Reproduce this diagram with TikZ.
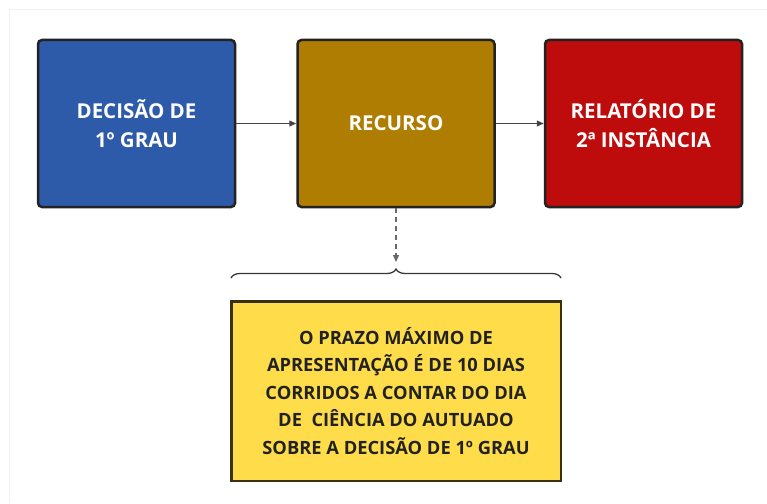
\documentclass[tikz,border=0pt]{standalone}
\usepackage{fontspec}
\setmainfont{Open Sans}
\usetikzlibrary{decorations.pathreplacing,arrows.meta}
\definecolor{azul}{HTML}{2E5AAA}
\definecolor{ouro}{HTML}{B07D03}
\definecolor{vermelho}{HTML}{BE0B0B}
\definecolor{amarelo}{HTML}{FFDC4A}
\definecolor{borda}{HTML}{222222}
\definecolor{bordaam}{HTML}{3A2F12}
\definecolor{cinza}{HTML}{444444}
\definecolor{moldura}{HTML}{F0F0F0}
\tikzset{
  caixa/.style={draw=borda,line width=2.5pt,rounded corners=4pt,
    minimum width=197pt,minimum height=167pt,inner sep=0pt,
    align=center,text=white,font=\bfseries\fontsize{20.5}{29}\selectfont},
  nota/.style={draw=bordaam,fill=amarelo,line width=2.5pt,
    minimum width=329.5pt,minimum height=179.5pt,inner sep=0pt,
    align=center,text=borda,font=\bfseries\fontsize{18.3}{27.5}\selectfont},
  seta/.style={draw=cinza,line width=1pt,-{Triangle[length=7pt,width=6pt]}},
}

\begin{document}
\begin{tikzpicture}[x=1pt,y=-1pt]
  \useasboundingbox (0,0) rectangle (767,503);
  % moldura
  \draw[moldura,line width=1pt] (9,503) -- (9,10) -- (767,10);

  % caixas
  \node[caixa,fill=azul] (dec) at (136.5,123.5) {DECISÃO DE\\1º GRAU};
  \node[caixa,fill=ouro] (rec) at (396,123.5) {RECURSO};
  \node[caixa,fill=vermelho] (rel) at (643.5,123.5) {RELATÓRIO DE\\2ª INSTÂNCIA};

  % setas
  \draw[seta] (dec) -- (rec);
  \draw[seta] (rec) -- (rel);

  % nota
  \node[nota] (prazo) at (396,391) {O PRAZO MÁXIMO DE\\APRESENTAÇÃO É DE 10 DIAS\\CORRIDOS A CONTAR DO DIA\\DE~ CIÊNCIA DO AUTUADO\\SOBRE A DECISÃO DE 1º GRAU};

  % chave e seta tracejada
  \coordinate (ponta) at (396,262);
  \draw[seta,draw=cinza!80,line width=1.3pt,dash pattern=on 5pt off 4pt] (rec.south) -- (ponta);
  \draw[borda!90,line width=1.3pt,decorate,decoration={brace,amplitude=9pt}]
    (231,278) -- (561,278);
\end{tikzpicture}
\end{document}
